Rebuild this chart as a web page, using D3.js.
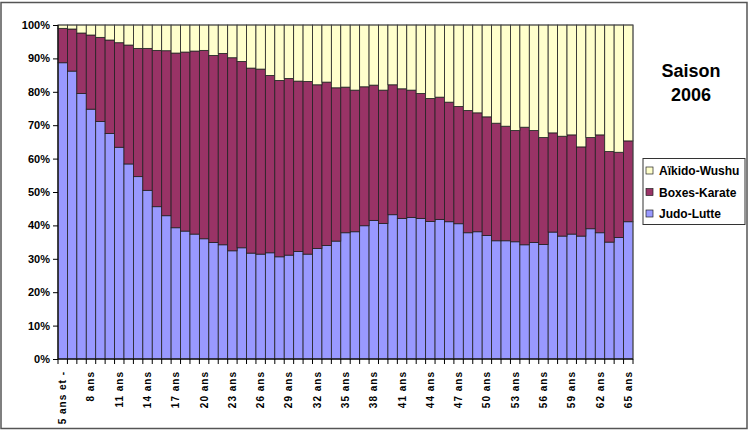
<!DOCTYPE html>
<html>
<head>
<meta charset="utf-8">
<script src="https://cdn.jsdelivr.net/npm/d3@7"></script>
<style>
	body { margin: 0; background: #fff; }
	svg { display: block; font-family: Arial, 'Liberation Sans', sans-serif; }
	.axis text { font-size: 11px; font-weight: bold; fill: #000; }
	.axis path, .axis line { stroke: #000; }
	.x-axis text { font-size: 10px; letter-spacing: 1px; }
</style>
</head>
<body>
<svg id="chart"></svg>
<script>
const categories = ['5 ans et -'].concat(d3.range(6, 66).map(a => `${a} ans`));

const judo = [88.7, 86.2, 79.5, 74.8, 71.1, 67.5, 63.4, 58.4, 54.6, 50.5,
	45.6, 42.9, 39.3, 38.3, 37.4, 36.0, 34.9, 34.2, 32.4, 33.3,
	31.7, 31.4, 31.8, 30.6, 31.1, 32.2, 31.4, 33.1, 34.0, 35.3,
	37.8, 38.1, 39.9, 41.5, 40.6, 43.2, 42.1, 42.4, 42.1, 41.2,
	41.8, 41.1, 40.5, 37.8, 38.1, 37.0, 35.4, 35.4, 35.1, 34.2,
	34.9, 34.3, 38.0, 36.8, 37.4, 36.8, 39.0, 37.8, 35.0, 36.4, 41.1];

const boxes = [10.3, 12.6, 18.1, 22.2, 25.2, 28.0, 31.3, 35.6, 38.4, 42.5,
	46.8, 49.4, 52.3, 53.6, 54.8, 56.4, 56.0, 57.3, 57.8, 55.8,
	55.4, 55.4, 53.1, 52.8, 52.9, 51.0, 51.7, 49.0, 48.9, 45.9,
	43.6, 42.4, 41.6, 40.5, 39.9, 38.9, 38.8, 38.1, 37.4, 36.8,
	36.6, 35.8, 35.1, 36.6, 35.6, 35.5, 35.2, 34.3, 33.3, 35.2,
	33.5, 32.0, 29.7, 29.9, 29.7, 26.7, 27.3, 29.3, 27.1, 25.5, 24.2];

const aikido = [1.0, 1.2, 2.4, 3.0, 3.7, 4.5, 5.3, 6.0, 7.0, 7.0,
	7.6, 7.7, 8.4, 8.1, 7.8, 7.6, 9.1, 8.5, 9.8, 10.9,
	12.9, 13.2, 15.1, 16.6, 16.0, 16.8, 16.9, 17.9, 17.1, 18.8,
	18.6, 19.5, 18.5, 18.0, 19.5, 17.9, 19.1, 19.5, 20.5, 22.0,
	21.6, 23.1, 24.4, 25.6, 26.3, 27.5, 29.4, 30.3, 31.6, 30.6,
	31.6, 33.7, 32.3, 33.3, 32.9, 36.5, 33.7, 32.9, 37.9, 38.1, 34.7];

const seriesKeys = ['Judo-Lutte', 'Boxes-Karate', 'Aïkido-Wushu'];
const seriesColors = ['#9999ff', '#993366', '#ffffcc'];
const yTicks = d3.range(0, 1.01, 0.1);

const W = 749;
const H = 430;
const MARGIN = { top: 25, right: 116, bottom: 71, left: 58 };
const width = W - MARGIN.left - MARGIN.right;
const height = H - MARGIN.top - MARGIN.bottom;

const rows = categories.map((c, i) => ({
	cat: c,
	'Judo-Lutte': judo[i],
	'Boxes-Karate': boxes[i],
	'Aïkido-Wushu': aikido[i]
}));

const stacked = d3.stack().keys(seriesKeys).offset(d3.stackOffsetExpand)(rows);

const $svg = d3.select('#chart').attr('width', W).attr('height', H);

// outer frame
$svg.append('rect')
	.attr('x', 1).attr('y', 2.5)
	.attr('width', 746).attr('height', 426)
	.attr('fill', 'none').attr('stroke', '#555').attr('stroke-width', 1.5);

const $g = $svg.append('g').attr('transform', `translate(${MARGIN.left},${MARGIN.top})`);

const x = d3.scaleBand().domain(categories).range([0, width]).padding(0);
const y = d3.scaleLinear().domain([0, 1]).range([height, 0]);
const color = d3.scaleOrdinal().domain(seriesKeys).range(seriesColors);

$g.selectAll('.series')
	.data(stacked)
	.enter()
	.append('g')
	.attr('class', 'series')
	.attr('fill', d => color(d.key))
	.selectAll('rect')
	.data(d => d)
	.enter()
	.append('rect')
	.attr('x', d => x(d.data.cat))
	.attr('y', d => y(d[1]))
	.attr('width', x.bandwidth())
	.attr('height', d => y(d[0]) - y(d[1]))
	.attr('stroke', '#222')
	.attr('stroke-width', 0.8);

// plot frame
$g.append('rect')
	.attr('width', width).attr('height', height)
	.attr('fill', 'none').attr('stroke', '#555').attr('stroke-width', 0.8);

const yAxis = d3.axisLeft(y)
	.tickValues(yTicks)
	.tickFormat(d3.format('.0%'))
	.tickSize(5)
	.tickPadding(3);

$g.append('g').attr('class', 'axis').call(yAxis)
	.call(s => s.select('.domain').remove());

$g.append('line')
	.attr('x1', 0).attr('x2', 0).attr('y1', 0).attr('y2', height)
	.attr('stroke', '#000');

// x axis: ticks at category boundaries, labels every 3rd category
const $xAxis = $g.append('g').attr('class', 'axis x-axis').attr('transform', `translate(0,${height})`);
$xAxis.append('line').attr('x1', 0).attr('x2', width).attr('stroke', '#000');
$xAxis.selectAll('line.tick')
	.data(categories.concat(['end']))
	.enter()
	.append('line')
	.attr('class', 'tick')
	.attr('x1', (d, i) => i * x.step())
	.attr('x2', (d, i) => i * x.step())
	.attr('y1', 0).attr('y2', 5)
	.attr('stroke', '#000');

$xAxis.selectAll('text')
	.data(categories.filter((d, i) => i % 3 === 0))
	.enter()
	.append('text')
	.attr('transform', d => `translate(${x(d) + x.bandwidth() / 2 + 3.5},12) rotate(-90)`)
	.attr('text-anchor', 'end')
	.text(d => d);

// title
$svg.append('text')
	.attr('x', 691).attr('y', 77)
	.attr('text-anchor', 'middle')
	.style('font-size', '18px').style('font-weight', 'bold')
	.text('Saison');
$svg.append('text')
	.attr('x', 691).attr('y', 101)
	.attr('text-anchor', 'middle')
	.style('font-size', '18px').style('font-weight', 'bold')
	.text('2006');

// legend
const $legend = $svg.append('g').attr('transform', 'translate(643,158.5)');
$legend.append('rect')
	.attr('width', 102).attr('height', 66)
	.attr('fill', '#fff').attr('stroke', '#333');

const legendItems = seriesKeys.slice().reverse();
const $item = $legend.selectAll('.item')
	.data(legendItems)
	.enter()
	.append('g')
	.attr('class', 'item')
	.attr('transform', (d, i) => `translate(3,${12 + i * 21.5})`);

$item.append('rect')
	.attr('x', 0).attr('y', -3.5)
	.attr('width', 7).attr('height', 7)
	.attr('fill', d => color(d))
	.attr('stroke', '#222').attr('stroke-width', 0.7);

$item.append('text')
	.attr('x', 13).attr('y', 4.5)
	.style('font-size', '12px').style('font-weight', 'bold')
	.text(d => d);
</script>
</body>
</html>
